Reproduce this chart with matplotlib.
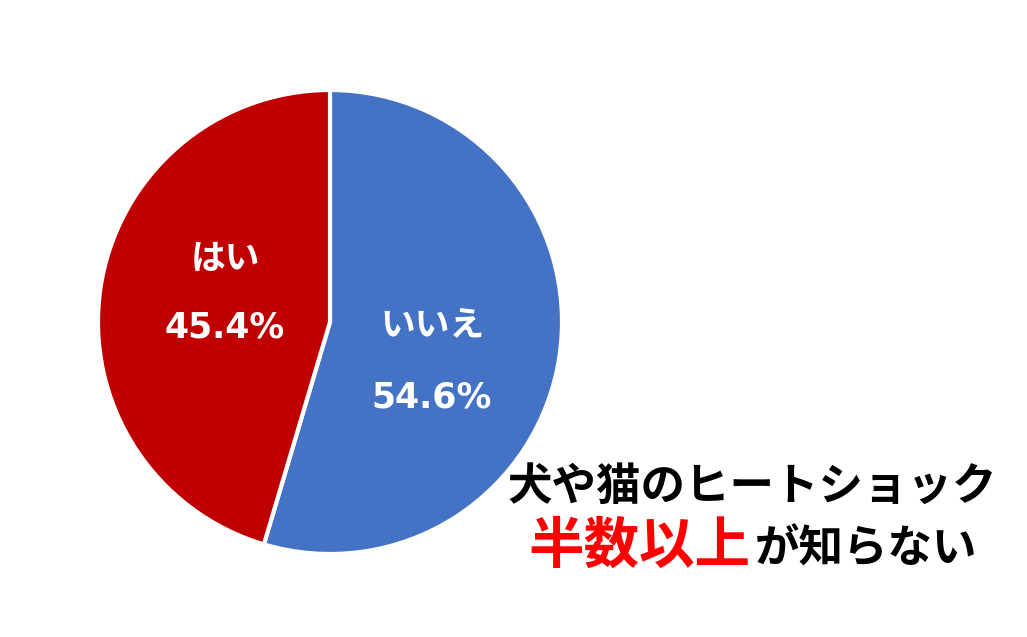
import matplotlib.pyplot as plt

plt.rcParams['font.family'] = ['Noto Sans CJK JP', 'DejaVu Sans']

# データ
labels = ['いいえ', 'はい']
values = [54.6, 45.4]
colors = ['#4472C4', '#C00000']

W, H = 1027, 637
fig = plt.figure(figsize=(W / 100, H / 100), dpi=100)

# 円グラフ (中心 330,322 px / 半径 232 px)
cx, cy, r = 330, 322, 232
ax = fig.add_axes([(cx - r) / W, (H - cy - r) / H, 2 * r / W, 2 * r / H])
wedges, texts = ax.pie(values, colors=colors, startangle=90, counterclock=False,
                       wedgeprops=dict(edgecolor='white', linewidth=3))
ax.set_xlim(-1.0, 1.0)
ax.set_ylim(-1.0, 1.0)
ax.set_aspect('equal')

# ラベル位置 (px)
label_pos = [(432, 325, 398), (225, 258, 328)]
for lab, val, (x, y1, y2) in zip(labels, values, label_pos):
    fig.text(x / W, 1 - y1 / H, lab, color='white', fontsize=25, fontweight='bold',
             ha='center', va='center')
    fig.text(x / W, 1 - y2 / H, f'{val}%', color='white', fontsize=25, fontweight='bold',
             family='DejaVu Sans', ha='center', va='center')

# 見出し
fig.text(752 / W, 1 - 487 / H, '犬や猫のヒートショック', fontsize=32, fontweight='bold',
         color='black', ha='center', va='center')
fig.text(750 / W, 1 - 563 / H, '半数以上', fontsize=40, fontweight='bold',
         color='#FF0000', ha='right', va='baseline')
fig.text(755 / W, 1 - 563 / H, 'が知らない', fontsize=32, fontweight='bold',
         color='black', ha='left', va='baseline')

fig.savefig('out.png', dpi=100, facecolor='white')
